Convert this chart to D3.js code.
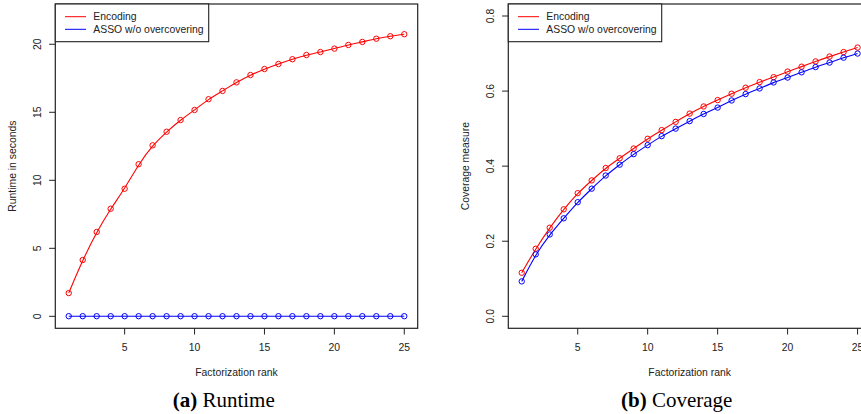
<!DOCTYPE html>
<html lang="en">
<head>
    <meta charset="UTF-8">
    <title>Runtime and Coverage</title>
    <script src="https://d3js.org/d3.v7.min.js"></script>
    <style>
        body {
            margin: 0;
            background: #fff;
            overflow: hidden;
        }
        text {
            font-family: "Liberation Sans", Arial, sans-serif;
            font-size: 10.4px;
            fill: #222;
        }
        .caption {
            font-family: "Liberation Serif", "Times New Roman", serif;
            font-size: 21px;
            fill: #000;
        }
    </style>
</head>
<body>
    <div id="chart"></div>

    <script>
        // factorization ranks 1..25
        const ranks = [1, 2, 3, 4, 5, 6, 7, 8, 9, 10, 11, 12, 13, 14, 15, 16, 17, 18, 19, 20, 21, 22, 23, 24, 25];

        // (a) runtime in seconds
        const runtimeEncoding = [1.71, 4.14, 6.2, 7.91, 9.38, 11.18, 12.57, 13.57, 14.43, 15.17, 15.96, 16.57, 17.2,
            17.74, 18.18, 18.55, 18.9, 19.21, 19.43, 19.68, 19.95, 20.17, 20.41, 20.59, 20.74];
        const runtimeAsso = [0.01, 0.01, 0.01, 0.01, 0.01, 0.01, 0.01, 0.01, 0.01, 0.01, 0.01, 0.01, 0.01,
            0.01, 0.01, 0.01, 0.01, 0.01, 0.01, 0.01, 0.01, 0.01, 0.01, 0.01, 0.01];

        // (b) coverage measure
        const coverageEncoding = [0.116, 0.180, 0.236, 0.285, 0.328, 0.362, 0.395, 0.421, 0.447, 0.473, 0.496, 0.518, 0.540,
            0.559, 0.576, 0.593, 0.609, 0.624, 0.637, 0.652, 0.665, 0.679, 0.692, 0.704, 0.716];
        const coverageAsso = [0.093, 0.165, 0.218, 0.261, 0.304, 0.340, 0.375, 0.404, 0.432, 0.456, 0.480, 0.500, 0.520,
            0.539, 0.556, 0.575, 0.592, 0.607, 0.623, 0.636, 0.650, 0.664, 0.676, 0.689, 0.700];

        const seriesNames = ["Encoding", "ASSO w/o overcovering"];
        const seriesColors = ["#ff0000", "#0000ff"];

        const xTicks = [5, 10, 15, 20, 25];
        const runtimeTicks = [0, 5, 10, 15, 20];
        const coverageTicks = [0, 0.2, 0.4, 0.6, 0.8];

        const svg = d3.select("#chart")
            .append("svg")
            .attr("width", 861)
            .attr("height", 414);

        function drawPanel(p) {
            const x = d3.scaleLinear().domain([0.04, 25.96]).range([p.left, p.right]);
            const y = d3.scaleLinear().domain(p.yDomain).range([328.3, 4]);
            const g = svg.append("g");

            // series
            p.series.forEach((vals, i) => {
                const pts = ranks.map((r, j) => [r, vals[j]]);
                g.append("path")
                    .attr("d", d3.line().x(d => x(d[0])).y(d => y(d[1])).curve(d3.curveBasis)(pts))
                    .attr("fill", "none")
                    .attr("stroke", seriesColors[i])
                    .attr("stroke-width", 1.1);
                g.selectAll(null)
                    .data(pts)
                    .enter().append("circle")
                    .attr("cx", d => x(d[0]))
                    .attr("cy", d => y(d[1]))
                    .attr("r", 2.7)
                    .attr("fill", "none")
                    .attr("stroke", seriesColors[i])
                    .attr("stroke-width", 1);
            });

            // box
            g.append("rect")
                .attr("x", p.left).attr("y", 4)
                .attr("width", p.right - p.left).attr("height", 324.3)
                .attr("fill", "none")
                .attr("stroke", "#222")
                .attr("stroke-width", 1.2);

            // x axis
            g.selectAll(null).data(xTicks).enter().append("line")
                .attr("x1", d => x(d)).attr("x2", d => x(d))
                .attr("y1", 328.3).attr("y2", 334.5)
                .attr("stroke", "#222");
            g.selectAll(null).data(xTicks).enter().append("text")
                .attr("x", d => x(d)).attr("y", 351)
                .attr("text-anchor", "middle")
                .text(d => d);

            // y axis
            g.selectAll(null).data(p.yTicks).enter().append("line")
                .attr("x1", p.left - 6.2).attr("x2", p.left)
                .attr("y1", d => y(d)).attr("y2", d => y(d))
                .attr("stroke", "#222");
            g.selectAll(null).data(p.yTicks).enter().append("text")
                .attr("transform", d => `translate(${p.left - 14.5},${y(d)}) rotate(-90)`)
                .attr("text-anchor", "middle")
                .text(p.yFormat);

            // axis titles
            g.append("text")
                .attr("x", (p.left + p.right) / 2).attr("y", 376)
                .attr("text-anchor", "middle")
                .text("Factorization rank");
            g.append("text")
                .attr("transform", `translate(${p.left - 39.5},${(4 + 328.3) / 2}) rotate(-90)`)
                .attr("text-anchor", "middle")
                .text(p.yTitle);

            // legend
            g.append("rect")
                .attr("x", p.left).attr("y", 4)
                .attr("width", 153.4).attr("height", 37.7)
                .attr("fill", "#fff")
                .attr("stroke", "#222")
                .attr("stroke-width", 1.1);
            seriesNames.forEach((name, i) => {
                const ly = 16.7 + i * 12.6;
                g.append("line")
                    .attr("x1", p.left + 9.7).attr("x2", p.left + 30.7)
                    .attr("y1", ly).attr("y2", ly)
                    .attr("stroke", seriesColors[i]);
                g.append("text")
                    .attr("x", p.left + 38).attr("y", ly + 3.7)
                    .text(name);
            });

            // caption
            const cap = svg.append("text")
                .attr("class", "caption")
                .attr("x", p.captionX).attr("y", 406.5)
                .attr("text-anchor", "middle");
            cap.append("tspan").attr("font-weight", "bold").text(p.captionTag);
            cap.append("tspan").text(" " + p.captionText);
        }

        drawPanel({
            left: 55.3, right: 417.7,
            yDomain: [-0.88, 22.96],
            yTicks: runtimeTicks,
            yFormat: d => d,
            yTitle: "Runtime in seconds",
            series: [runtimeEncoding, runtimeAsso],
            captionX: 223.7, captionTag: "(a)", captionText: "Runtime"
        });

        drawPanel({
            left: 508.3, right: 871,
            yDomain: [-0.032, 0.832],
            yTicks: coverageTicks,
            yFormat: d => d.toFixed(1),
            yTitle: "Coverage measure",
            series: [coverageEncoding, coverageAsso],
            captionX: 676.7, captionTag: "(b)", captionText: "Coverage"
        });
    </script>
</body>
</html>
